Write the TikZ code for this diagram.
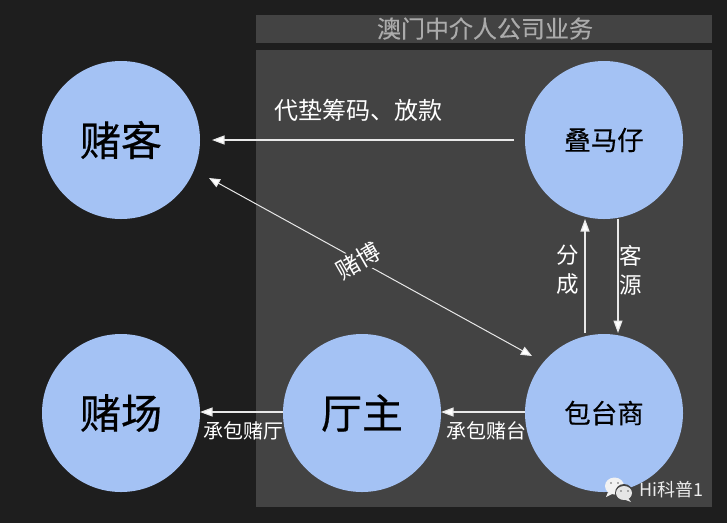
\documentclass[tikz,border=0pt]{standalone}
\usepackage{fontspec}
\usetikzlibrary{arrows.meta,calc}
\setmainfont{Noto Sans CJK SC}
\newfontfamily\medfont[FakeBold=0.45]{Noto Sans CJK SC}
\newfontfamily\lightmedfont[FakeBold=0.2]{Noto Sans CJK SC}
\definecolor{bgc}{HTML}{1E1E1E}
\definecolor{panelc}{HTML}{434343}
\definecolor{circc}{HTML}{A4C2F4}
\definecolor{titlec}{HTML}{ABABAB}
\definecolor{linec}{HTML}{E8E8E8}
\tikzset{
  x=1pt,y=-1pt,
  party/.style={circle,fill=circc,draw=none,minimum size=158pt,inner sep=0pt,outer sep=0pt,text=black},
  bigname/.style={font=\medfont\fontsize{41}{41}\selectfont},
  smallname/.style={font=\lightmedfont\fontsize{26.5}{27}\selectfont},
  arrowtip/.style={Triangle[length=12.5pt,width=9pt,fill=white]},
  link/.style={draw=linec,line width=1.2pt,-{Triangle[length=12.5pt,width=9pt,fill=white]}},
  biglabel/.style={text=white,inner sep=0pt,font=\fontsize{24}{24}\selectfont},
  midlabel/.style={text=white,inner sep=0pt,font=\fontsize{22.5}{29}\selectfont},
  smalllabel/.style={text=white,inner sep=0pt,font=\fontsize{20}{20}\selectfont},
  bubble/.style={fill=#1,draw=none}
}
\begin{document}
\begin{tikzpicture}
\useasboundingbox (0,0) rectangle (727,523);
\fill[bgc] (0,0) rectangle (727,523);
\fill[panelc] (256,15) rectangle (712,43);
\fill[panelc] (256,50) rectangle (712,507);
\node[text=titlec,inner sep=0pt,font=\lightmedfont\fontsize{24}{24}\selectfont] (title) at (485,28.5) {澳门中介人公司业务};

\node[party,bigname] (gambler) at (121,140) {赌客};
\node[party,bigname] (casino) at (121,413) {赌场};
\node[party,bigname] (hall) at (362,413) {厅主};
\node[party,smallname] (runner) at (604,140) {叠马仔};
\node[party,smallname] (junket) at (604,413) {包台商};

\coordinate (rl) at (514,140);
\coordinate (gl) at (212,140);
\coordinate (b1) at (209,178);
\coordinate (b2) at (532,356);
\coordinate (upa) at (585,333);
\coordinate (upb) at (585,219);
\coordinate (dna) at (618,219);
\coordinate (dnb) at (618,333);
\draw[link] (rl) -- (gl);
\node[biglabel] (loan) at (358,110) {代垫筹码、放款};
\draw[draw=linec,line width=1pt,{Triangle[length=11pt,width=9pt,fill=white]}-{Triangle[length=11pt,width=9pt,fill=white]}] (b1) -- (b2);
\node[text=white,fill=panelc,inner sep=2pt,rotate=30,font=\fontsize{23.5}{24}\selectfont] (gamblabel) at (358.5,261) {赌博};

\draw[link] (upa) -- (upb);
\draw[link] (dna) -- (dnb);
\node[midlabel,align=center] (share) at (568,270) {分\\成};
\node[midlabel,align=center] (source) at (631,270) {客\\源};

\draw[link] (hall.west |- 0,412) -- (casino.east |- 0,412);
\draw[link] (junket.west |- 0,412) -- (hall.east |- 0,412);
\node[smalllabel] (l1) at (243,431) {承包赌厅};
\node[smalllabel] (l2) at (486,431) {承包赌台};

% watermark
\fill[bubble=white!95!black] (614.5,486) ellipse (9.5 and 8.5);
\fill[bubble=white!95!black] (608,492) -- (606,497) -- (612,494) -- cycle;
\fill[panelc] (624,493) circle (9);
\fill[bubble=white!90!black] (624,493) ellipse (8 and 7);
\fill[bubble=white!90!black] (628,498) -- (631,502) -- (623,499) -- cycle;
\fill[black!60] (621,491) circle (0.9) (628,491) circle (0.9) (611,483) circle (0.9) (618,483) circle (0.9);
\node[text=white!92!black,inner sep=0pt,anchor=west,font=\fontsize{18}{18}\selectfont] (mark) at (639,490) {Hi科普1};
\end{tikzpicture}
\end{document}
